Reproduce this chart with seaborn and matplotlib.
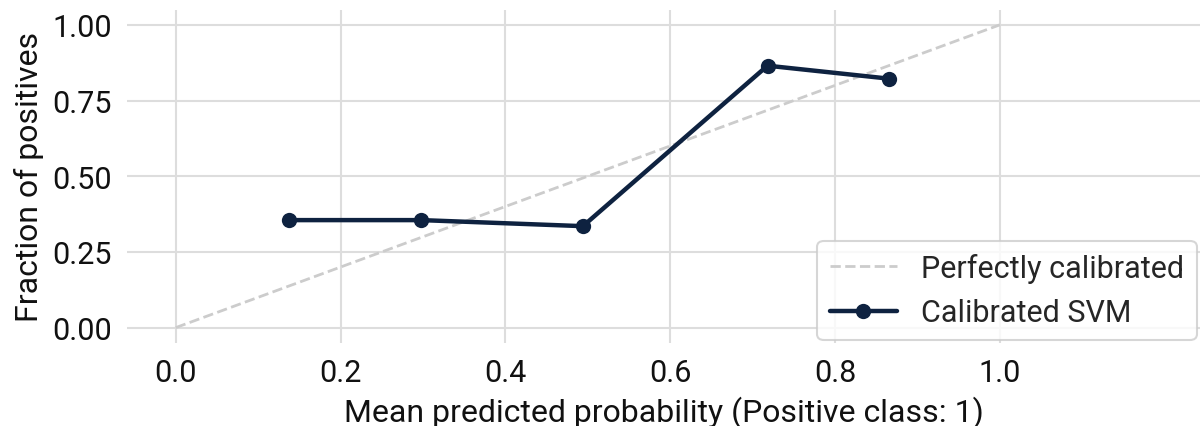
import numpy as np
import matplotlib.pyplot as plt
import pandas as pd
import seaborn as sns

# calibration curve values
mean_pred = [0.137, 0.298, 0.494, 0.718, 0.866]
frac_pos = [0.355, 0.355, 0.335, 0.865, 0.822]
diag = [0.0, 1.0]

sns.set_theme(style='whitegrid')
plt.rcParams['font.family'] = ['Roboto', 'DejaVu Sans']
plt.rcParams['font.size'] = 22

fig, ax = plt.subplots(figsize=(12.02, 4.27), dpi=100)

ax.plot(diag, diag, '--', color='#cccccc', lw=2, label='Perfectly calibrated')
df = pd.DataFrame({'x': mean_pred, 'y': frac_pos})
sns.lineplot(data=df, x='x', y='y', ax=ax, color='#0e2240', lw=3.2,
             marker='o', markersize=11, markeredgewidth=0,
             label='Calibrated SVM')

ax.set_xlim(-0.0587, 1.2423)
ax.set_ylim(-0.05, 1.05)
ax.set_xticks([0.0, 0.2, 0.4, 0.6, 0.8, 1.0])
ax.set_yticks([0.0, 0.25, 0.5, 0.75, 1.0])
ax.set_yticklabels(['0.00', '0.25', '0.50', '0.75', '1.00'])
ax.tick_params(labelsize=22, colors='#111111', pad=5)
ax.set_xlabel('Mean predicted probability (Positive class: 1)', fontsize=23, color='#111111', labelpad=6)
ax.set_ylabel('Fraction of positives', fontsize=23, color='#111111', labelpad=6)
ax.grid(True, color='#dddddd', lw=1.5)
for s in ax.spines.values():
    s.set_visible(False)

leg = ax.legend(loc='lower right', fontsize=22, frameon=True, handlelength=2.2,
                borderaxespad=0.1)
leg.get_frame().set_edgecolor('#cccccc')
leg.get_frame().set_linewidth(1.5)

plt.subplots_adjust(left=0.106, right=0.998, top=0.975, bottom=0.195)
plt.savefig('out.png', dpi=100)
